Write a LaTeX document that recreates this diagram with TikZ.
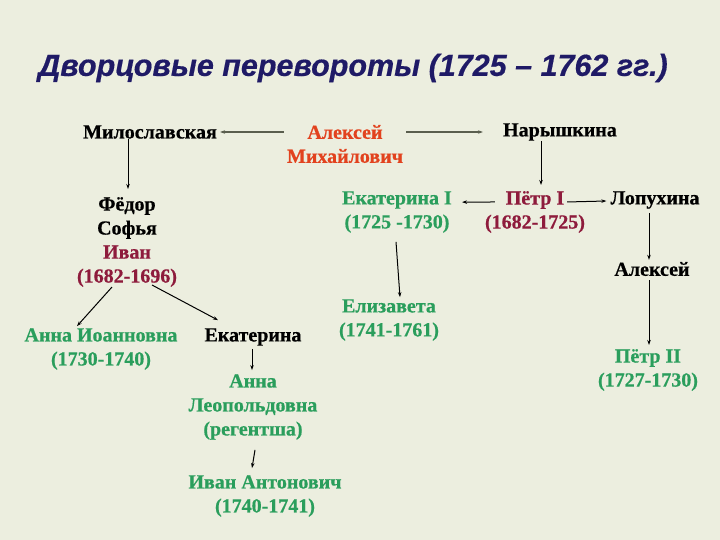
\documentclass[tikz,border=0pt]{standalone}
\usepackage{fontspec}
\setmainfont{Liberation Serif}[BoldFeatures={FakeBold=0.6}]
\newfontfamily\titlefont{Liberation Sans}[BoldItalicFeatures={FakeBold=0.5}]
\usepackage{xcolor}
\usetikzlibrary{arrows.meta, positioning}

\definecolor{bgpaper}{HTML}{ECEEDF}
\definecolor{tsarred}{HTML}{E2421E}
\definecolor{ivanred}{HTML}{8E1B3C}
\definecolor{ruler}{HTML}{2A9E5C}
\definecolor{titleblue}{HTML}{1F1A66}
\definecolor{lineolive}{HTML}{5A5E4E}

\begin{document}
\begin{tikzpicture}[
		x=1pt, y=-1pt,
		person/.style={inner sep=0pt, align=center, font=\fontsize{20}{24}\selectfont\bfseries},
		arrow/.style={-{Stealth[length=5pt, width=3.5pt]}, line width=1pt},
		link/.style={arrow, lineolive, line width=1.5pt}
		]
		\useasboundingbox[fill=bgpaper] (0,0) rectangle (720,540);
		% Title
		\node[font=\titlefont\fontsize{30.5}{36}\selectfont\bfseries\itshape, text=titleblue] (title) at (353,68) {Дворцовые перевороты (1725 – 1762 гг.)};
		
		% Nodes
		\node[person] (milo) at (150,132) {Милославская};
		\node[person, text=tsarred] (aleksey) at (345,144) {Алексей\\Михайлович};
		\node[person] (naryshk) at (560,132) {Нарышкина};
		\node[person] (fedor) at (127,242) {Фёдор\\Софья\\\textcolor{ivanred}{Иван}\\\textcolor{ivanred}{(1682-1696)}};
		\node[person, text=ruler] (ekat1) at (397,212) {Екатерина I\\(1725 -1730)};
		\node[person, text=ivanred] (petr1) at (535,212) {Пётр I\\(1682-1725)};
		\node[person] (lopukh) at (655,200) {Лопухина};
		\node[person] (alekseyp) at (652,269) {Алексей};
		\node[person, text=ruler] (petr2) at (648,370) {Пётр II\\(1727-1730)};
		\node[person, text=ruler] (elizav) at (389,320) {Елизавета\\(1741-1761)};
		\node[person, text=ruler] (annai) at (101,349) {Анна Иоанновна\\(1730-1740)};
		\node[person] (ekat) at (253,337) {Екатерина};
		\node[person, text=ruler] (annal) at (253,407) {Анна\\Леопольдовна\\(регентша)};
		\node[person, text=ruler] (ivana) at (265,496) {Иван Антонович\\(1740-1741)};
		
		% Arrows
		\draw[link] ([shift={(-3,0)}]aleksey.west |- milo.east) -- ([shift={(3,0)}]milo.east);
		\draw[link] ([shift={(3,0)}]aleksey.east |- naryshk.west) -- ([shift={(-20,0)}]naryshk.west);
		\draw[arrow] ([shift={(-22,0)}]milo.south) -- ([shift={(1,-8)}]fedor.north);
		\draw[arrow] ([shift={(-19,0)}]naryshk.south) -- ([shift={(6,-6)}]petr1.north);
		\draw[arrow] ([shift={(10,11)}]petr1.north west) -- ([shift={(10,11)}]ekat1.north east);
		\draw[arrow] ([shift={(-18,11)}]petr1.north east) -- ([shift={(-4,1)}]lopukh.west);
		\draw[arrow] ([shift={(-6,4)}]lopukh.south) -- ([shift={(-3,-2)}]alekseyp.north);
		\draw[arrow] ([shift={(-3,4)}]alekseyp.south) -- ([shift={(1,-4)}]petr2.north);
		\draw[arrow] ([shift={(-1,9)}]ekat1.south) -- ([shift={(11,-2)}]elizav.north);
		\draw[arrow] ([shift={(-15,0)}]fedor.south) -- ([shift={(-24,-2)}]annai.north);
		\draw[arrow] ([shift={(25,-2)}]fedor.south) -- ([shift={(-35,-8)}]ekat.north);
		\draw[arrow] ([shift={(-1,3)}]ekat.south) -- ([shift={(-1,-4)}]annal.north);
		\draw[arrow] ([shift={(2,10)}]annal.south) -- ([shift={(-13,-7)}]ivana.north);
	\end{tikzpicture}
\end{document}
